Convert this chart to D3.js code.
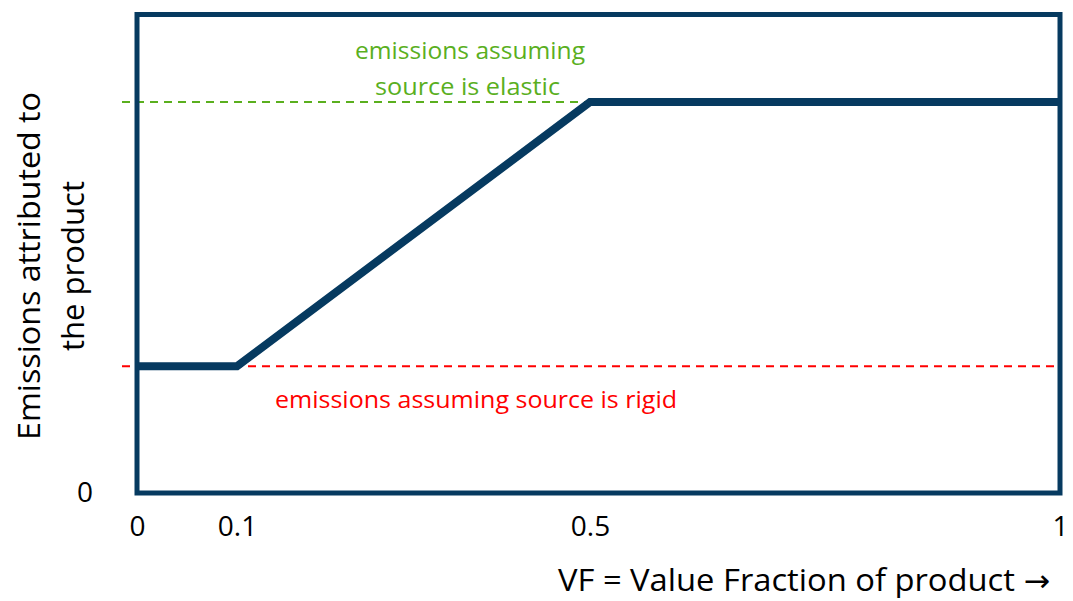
<!DOCTYPE html>
<html>
<head>
<meta charset="utf-8">
<script src="https://cdn.jsdelivr.net/npm/d3@7"></script>
<style>
  html, body { margin: 0; padding: 0; background: #fff; }
  svg { display: block; font-family: "Open Sans", "Noto Sans", sans-serif; }
</style>
</head>
<body>
<div id="chart"></div>
<script>
// data
var vfBreaks = [0, 0.1, 0.5, 1];          // value fraction at the kinks
var emissions = [0.265, 0.265, 0.817, 0.817]; // emissions attributed
var rigidLevel = 0.265;
var elasticLevel = 0.817;
var xTicks = [0, 0.1, 0.5, 1];
var yTicks = [0];

var width = 1073, height = 601;
var navy = "#063a60", green = "#5aaf1e", red = "#ff0000";

var svg = d3.select("#chart").append("svg")
    .attr("width", width)
    .attr("height", height);

// x is drawn piecewise, like the hand-made original
var x = d3.scaleLinear()
    .domain(vfBreaks)
    .range([137, 237, 590, 1060]);
var y = d3.scaleLinear()
    .domain([0, 1])
    .range([493, 14.5]);

// reference levels
svg.append("line")
    .attr("x1", 122).attr("x2", x(0.5))
    .attr("y1", y(elasticLevel)).attr("y2", y(elasticLevel))
    .attr("stroke", green).attr("stroke-width", 2)
    .attr("stroke-dasharray", "8,6");

svg.append("line")
    .attr("x1", 122).attr("x2", x(1))
    .attr("y1", y(rigidLevel)).attr("y2", y(rigidLevel))
    .attr("stroke", red).attr("stroke-width", 2)
    .attr("stroke-dasharray", "8,6");

// frame
svg.append("rect")
    .attr("x", x(0)).attr("y", y(1))
    .attr("width", x(1) - x(0))
    .attr("height", y(0) - y(1))
    .attr("fill", "none")
    .attr("stroke", navy)
    .attr("stroke-width", 5);

// the curve
var pts = vfBreaks.map(function(v, i) { return [v, emissions[i]]; });
var line = d3.line()
    .x(function(d) { return x(d[0]); })
    .y(function(d) { return y(d[1]); });

svg.append("path")
    .datum(pts)
    .attr("d", line)
    .attr("fill", "none")
    .attr("stroke", navy)
    .attr("stroke-width", 8)
    .attr("stroke-linejoin", "miter");

// axes (labels only)
var xAxis = svg.append("g")
    .attr("transform", "translate(0," + y(0) + ")")
    .call(d3.axisBottom(x).tickValues(xTicks).tickSize(0).tickPadding(23)
        .tickFormat(function(d) { return d === 0 || d === 1 ? d3.format("d")(d) : d; }));
xAxis.select(".domain").remove();
xAxis.selectAll("text")
    .attr("font-size", 28)
    .attr("font-family", "Open Sans")
    .attr("fill", "#000");

var yAxis = svg.append("g")
    .attr("transform", "translate(" + x(0) + ",0)")
    .call(d3.axisLeft(y).tickValues(yTicks).tickSize(0).tickPadding(44)
        .tickFormat(d3.format("d")));
yAxis.select(".domain").remove();
yAxis.selectAll("text")
    .attr("font-size", 28)
    .attr("font-family", "Open Sans")
    .attr("fill", "#000");

// annotations
svg.append("text")
    .attr("x", 470).attr("y", 59)
    .attr("text-anchor", "middle")
    .attr("font-size", 24).attr("fill", green)
    .attr("textLength", 230).attr("lengthAdjust", "spacingAndGlyphs")
    .text("emissions assuming");
svg.append("text")
    .attr("x", 467.5).attr("y", 95)
    .attr("text-anchor", "middle")
    .attr("font-size", 24).attr("fill", green)
    .attr("textLength", 185).attr("lengthAdjust", "spacingAndGlyphs")
    .text("source is elastic");
svg.append("text")
    .attr("x", 476).attr("y", 408)
    .attr("text-anchor", "middle")
    .attr("font-size", 24).attr("fill", red)
    .attr("textLength", 402).attr("lengthAdjust", "spacingAndGlyphs")
    .text("emissions assuming source is rigid");

// axis titles
var xTitle = svg.append("text")
    .attr("x", 804).attr("y", 591)
    .attr("text-anchor", "middle")
    .attr("font-size", 31).attr("fill", "#000")
    .attr("textLength", 492).attr("lengthAdjust", "spacingAndGlyphs");
xTitle.append("tspan").text("VF = Value Fraction of product ");
xTitle.append("tspan")
    .attr("font-family", "DejaVu Sans")
    .attr("font-size", 30)
    .text("\u2192");

var yTitle = svg.append("g")
    .attr("transform", "translate(0,266) rotate(-90)");
yTitle.append("text")
    .attr("x", 0).attr("y", 40)
    .attr("text-anchor", "middle")
    .attr("font-size", 31).attr("fill", "#000")
    .attr("textLength", 348).attr("lengthAdjust", "spacingAndGlyphs")
    .text("Emissions attributed to");
yTitle.append("text")
    .attr("x", 0).attr("y", 84)
    .attr("text-anchor", "middle")
    .attr("font-size", 31).attr("fill", "#000")
    .attr("textLength", 170).attr("lengthAdjust", "spacingAndGlyphs")
    .text("the product");
</script>
</body>
</html>
